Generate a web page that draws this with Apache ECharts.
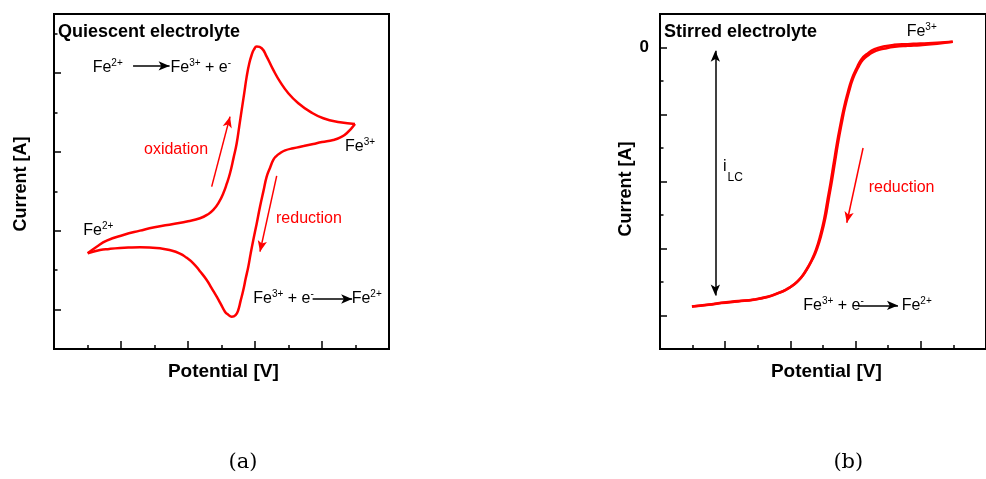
<!DOCTYPE html>
<html>
<head>
<meta charset="utf-8">
<script src="https://cdn.jsdelivr.net/npm/echarts@6/dist/echarts.min.js"></script>
<style>
html,body{margin:0;padding:0;background:#fff;}
#chart{width:986px;height:479px;}
</style>
</head>
<body>
<div id="chart"></div>
<script>
// ---------- Data (arbitrary potential / current units) ----------
// Panel (a): cyclic voltammogram, quiescent electrolyte
const cvForward = [
  [1.006,1.429],[1.274,1.596],[1.573,1.749],[2.069,1.893],[2.567,2.003],[3.0,2.09],[3.561,2.173],[4.0,2.24],
  [4.358,2.317],[4.6,2.42],[4.755,2.528],[4.92,2.72],[5.054,2.952],[5.16,3.2],[5.254,3.459],[5.36,3.85],
  [5.454,4.221],[5.53,4.65],[5.603,5.066],[5.68,5.5],[5.752,5.911],[5.83,6.25],[5.901,6.462],[5.97,6.6],
  [6.051,6.673],[6.2,6.632],[6.349,6.419],[6.546,6.081],[6.746,5.784],[6.994,5.49],[7.293,5.236],
  [7.642,5.023],[8.039,4.855],[8.537,4.754],[8.985,4.711]
];
const cvReverse = [
  [8.985,4.711],[8.737,4.475],[8.55,4.37],[8.337,4.305],[8.0,4.25],[7.740,4.203],[7.45,4.15],[7.143,4.094],
  [6.9,4.04],[6.746,3.967],[6.63,3.89],[6.546,3.797],[6.45,3.6],[6.349,3.373],[6.25,3.0],[6.149,2.612],
  [6.05,2.18],[5.949,1.766],[5.87,1.42],[5.800,1.089],[5.72,0.78],[5.651,0.497],[5.57,0.22],[5.501,-0.010],
  [5.42,-0.14],[5.304,-0.180],[5.2,-0.13],[5.104,-0.053],[4.98,0.14],[4.857,0.327],[4.7,0.55],[4.558,0.751],
  [4.35,0.98],[4.158,1.175],[3.95,1.32],[3.761,1.42],[3.45,1.51],[3.164,1.556],[2.85,1.575],[2.567,1.581],
  [2.25,1.575],[1.970,1.563],[1.65,1.54],[1.373,1.513],[1.006,1.429]
];
// Panel (b): stirred electrolyte (two nearly overlapping sweeps)
const stirSweep1 = [
  [0.98,-7.73],[1.5,-7.68],[1.88,-7.63],[2.4,-7.58],[2.88,-7.53],[3.3,-7.45],[3.58,-7.35],[3.85,-7.24],
  [4.08,-7.10],[4.3,-6.90],[4.48,-6.65],[4.65,-6.35],[4.78,-6.05],[4.92,-5.60],[5.03,-5.15],[5.13,-4.60],
  [5.23,-4.05],[5.33,-3.45],[5.43,-2.85],[5.53,-2.33],[5.63,-1.85],[5.75,-1.38],[5.88,-0.95],[6.03,-0.62],
  [6.18,-0.35],[6.38,-0.17],[6.58,-0.05],[6.85,0.03],[7.18,0.08],[7.6,0.10],[7.98,0.12],[8.5,0.14],[8.98,0.17]
];
const stirSweep2 = [
  [0.98,-7.73],[1.5,-7.67],[1.88,-7.62],[2.4,-7.57],[2.88,-7.52],[3.3,-7.44],[3.6,-7.34],[3.88,-7.22],
  [4.12,-7.07],[4.34,-6.86],[4.52,-6.60],[4.69,-6.30],[4.82,-6.00],[4.96,-5.55],[5.07,-5.10],[5.17,-4.55],
  [5.27,-4.00],[5.37,-3.40],[5.47,-2.80],[5.57,-2.28],[5.67,-1.80],[5.79,-1.34],[5.92,-0.93],[6.07,-0.61],
  [6.22,-0.37],[6.42,-0.21],[6.62,-0.10],[6.9,-0.03],[7.2,0.02],[7.6,0.05],[7.98,0.07],[8.5,0.11],[8.98,0.17]
];
// Tick positions
const xRange = [0, 10];
const aYRange = [-1, 7.5];
const aYMajor = [0, 2, 4, 6];
const aYMinor = [1, 3, 5, 7];
const bYRange = [-9, 1];
const bYMajor = [0, -2, -4, -6, -8];
const bYMinor = [-1, -3, -5, -7];
const bYLabels = [0];
// Annotation arrows [x1,y1,x2,y2]
const aArrowOx = [4.707, 3.119, 5.254, 4.896];
const aArrowRed = [6.648, 3.391, 6.149, 1.470];
const aArrowTop = [2.36, 6.183, 3.45, 6.183];
const aArrowBot = [7.72, 0.269, 8.90, 0.269];
const bArrowLC = [1.698, -0.10, 1.698, -7.40];
const bArrowRed = [6.229, -3.0, 5.73, -5.232];
const bArrowBot = [6.08, -7.70, 7.30, -7.70];

// ---------- Helpers ----------
const FONT = "'Liberation Sans', Arial, sans-serif";
const RED = '#ff0000';
function arrowLine(a, color, both) {
  return [
    { coord: [a[0], a[1]], symbol: both ? 'arrow' : 'none', symbolSize: [7, 11], lineStyle: { color: color, width: 1.5, type: 'solid' } },
    { coord: [a[2], a[3]], symbol: 'arrow', symbolSize: [7, 11] }
  ];
}
function chem(x, y, str, color) {
  const parts = [];
  const re = /\^\{([^}]*)\}/g;
  let last = 0, m;
  while ((m = re.exec(str)) !== null) {
    if (m.index > last) parts.push('{b|' + str.slice(last, m.index) + '}');
    parts.push('{s|' + m[1] + '}');
    last = re.lastIndex;
  }
  if (last < str.length) parts.push('{b|' + str.slice(last) + '}');
  return {
    type: 'text', x: x, y: y, silent: true,
    style: {
      text: parts.join(''), verticalAlign: 'middle', align: 'left',
      rich: {
        b: { fontSize: 16, fontFamily: FONT, fill: color || '#000', lineHeight: 20, verticalAlign: 'middle' },
        s: { fontSize: 10, fontFamily: FONT, fill: color || '#000', lineHeight: 10, verticalAlign: 'top' }
      }
    }
  };
}
function txt(x, y, s, opt) {
  return {
    type: 'text', x: x, y: y, silent: true, rotation: opt.rot || 0,
    style: Object.assign({ text: s, fill: '#000', align: 'left', verticalAlign: 'middle', font: opt.font }, opt.style || {})
  };
}
function xAx(grid) {
  return {
    type: 'value', gridIndex: grid, min: xRange[0], max: xRange[1], interval: 2,
    axisLine: { show: false, onZero: false },
    axisTick: { show: true, inside: true, length: 8, lineStyle: { color: '#000', width: 1.5 } },
    minorTick: { show: true, splitNumber: 2, length: 4, lineStyle: { color: '#000', width: 1.5 } },
    axisLabel: { show: false }, splitLine: { show: false }
  };
}
function yAx(grid, range, ticks, len, labels) {
  return {
    type: 'value', gridIndex: grid, min: range[0], max: range[1], position: 'left',
    axisLine: { show: false, onZero: false },
    axisTick: { show: true, inside: true, length: len, customValues: ticks, lineStyle: { color: '#000', width: 1.5 } },
    axisLabel: labels ? { show: true, customValues: labels, margin: 11, fontSize: 17, fontWeight: 'bold', color: '#000', fontFamily: FONT } : { show: false },
    splitLine: { show: false }
  };
}

const chart = echarts.init(document.getElementById('chart'), null, { renderer: 'canvas' });
const option = {
  animation: false,
  backgroundColor: '#fff',
  grid: [
    { left: 54, right: 597, top: 14, bottom: 130, show: true, borderColor: '#000', borderWidth: 2, backgroundColor: 'transparent' },
    { left: 660, right: -8, top: 14, bottom: 130, show: true, borderColor: '#000', borderWidth: 2, backgroundColor: 'transparent' }
  ],
  xAxis: [xAx(0), xAx(1)],
  yAxis: [
    yAx(0, aYRange, aYMajor, 7, null),
    yAx(0, aYRange, aYMinor, 3.5, null),
    yAx(1, bYRange, bYMajor, 7, bYLabels),
    yAx(1, bYRange, bYMinor, 3.5, null)
  ],
  series: [
    { type: 'line', name: 'CV forward', xAxisIndex: 0, yAxisIndex: 0, data: cvForward, smooth: 0.5, showSymbol: false,
      lineStyle: { color: RED, width: 2.5 }, silent: true,
      markLine: { silent: true, animation: false, label: { show: false }, symbol: ['none', 'arrow'],
        data: [arrowLine(aArrowOx, RED), arrowLine(aArrowRed, RED), arrowLine(aArrowTop, '#000'), arrowLine(aArrowBot, '#000')] } },
    { type: 'line', name: 'CV reverse', xAxisIndex: 0, yAxisIndex: 0, data: cvReverse, smooth: 0.5, showSymbol: false,
      lineStyle: { color: RED, width: 2.5 }, silent: true },
    { type: 'line', name: 'Stirred 1', xAxisIndex: 1, yAxisIndex: 2, data: stirSweep1, smooth: 0.5, showSymbol: false,
      lineStyle: { color: RED, width: 2.5 }, silent: true,
      markLine: { silent: true, animation: false, label: { show: false }, symbol: ['none', 'arrow'],
        data: [arrowLine(bArrowLC, '#000', true), arrowLine(bArrowRed, RED), arrowLine(bArrowBot, '#000')] } },
    { type: 'line', name: 'Stirred 2', xAxisIndex: 1, yAxisIndex: 2, data: stirSweep2, smooth: 0.5, showSymbol: false,
      lineStyle: { color: RED, width: 2.5 }, silent: true }
  ],
  graphic: [
    // panel (a)
    txt(58, 32.5, 'Quiescent electrolyte', { font: 'bold 18px ' + FONT }),
    chem(92.7, 68, 'Fe^{2+}'),
    chem(170.5, 68, 'Fe^{3+} + e^{-}'),
    txt(144, 150, 'oxidation', { font: '16px ' + FONT, style: { fill: RED } }),
    txt(276, 219, 'reduction', { font: '16px ' + FONT, style: { fill: RED } }),
    chem(345, 147, 'Fe^{3+}'),
    chem(83.3, 231, 'Fe^{2+}'),
    chem(253.3, 299, 'Fe^{3+} + e^{-}'),
    chem(351.7, 299, 'Fe^{2+}'),
    txt(21.5, 184, 'Current [A]', { font: 'bold 18px ' + FONT, rot: Math.PI / 2, style: { align: 'center' } }),
    txt(223.3, 371.5, 'Potential [V]', { font: 'bold 19px ' + FONT, style: { align: 'center' } }),
    txt(243, 463, '(a)', { font: "21px 'DejaVu Serif', serif", style: { align: 'center' } }),
    // panel (b)
    txt(664, 32.3, 'Stirred electrolyte', { font: 'bold 18px ' + FONT }),
    chem(906.7, 32, 'Fe^{3+}'),
    txt(723, 167, 'i', { font: '16px ' + FONT }),
    txt(727.5, 177.5, 'LC', { font: '12px ' + FONT }),
    txt(868.7, 188, 'reduction', { font: '16px ' + FONT, style: { fill: RED } }),
    chem(803.3, 306, 'Fe^{3+} + e^{-}'),
    chem(901.7, 306, 'Fe^{2+}'),
    txt(626, 189, 'Current [A]', { font: 'bold 18px ' + FONT, rot: Math.PI / 2, style: { align: 'center' } }),
    txt(826.3, 371.5, 'Potential [V]', { font: 'bold 19px ' + FONT, style: { align: 'center' } }),
    txt(848.3, 463, '(b)', { font: "21px 'DejaVu Serif', serif", style: { align: 'center' } })
  ]
};
chart.setOption(option);
</script>
</body>
</html>
